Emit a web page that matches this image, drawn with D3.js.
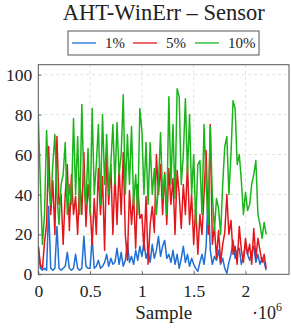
<!DOCTYPE html>
<html>
<head>
<meta charset="utf-8">
<script src="https://cdn.jsdelivr.net/npm/d3@7"></script>
<style>
  body { margin: 0; background: #fff; }
  svg text { font-family: "Liberation Serif", "DejaVu Serif", serif; fill: #222; }
</style>
</head>
<body>
<svg width="291" height="330"></svg>
<script>
// sample step between readings (samples)
var sampleStep = 20000;

var series1 = [14,3,2,3,2,34,3,2,3,24,3,2,3,4,11,3,2,3,10,3,2,3,19,4,3,3,18,3,4,7,
  3,4,6,10,4,8,5,6,13,5,11,4,7,16,6,9,5,12,7,14,9,16,8,12,6,15,8,12,19,9,
  14,17,8,10,6,12,5,10,3,8,14,6,10,4,8,5,3,1.5,6,10,5,14,42,12,5,9,7,12,5,8,
  3,0.5,6,10,17,8,12,13,5,9,15,10,7,11,14,6,10,5,8,6,2];

var series5 = [14,5,3,16,25,64,30,47,20,69,35,40,15,40,55,22,50,30,39,20,48,30,61,24,45,34,15,38,20,53,
  30,49,12,60,35,55,20,50,25,54,30,61,20,7,42,25,40,13,45,28,30,12,39,5,25,34,21,60,40,55,
  30,51,25,53,35,48,20,52,40,23,45,30,55,25,40,15,35,10,30,20,40,62,20,75,15,24,8,22,6,15,
  21,40,20,27,10,14,5,24,12,6,18,10,15,5,23,8,18,12,6,10,3];

var series10 = [79,45,15,30,72,45,35,55,70,40,25,45,50,66,30,45,35,78,40,69,30,85,45,35,63,30,83,40,55,75,
  35,80,45,70,40,55,75,45,76,50,60,90,40,70,45,74,35,50,30,83,72,40,66,35,66,40,53,30,45,71,
  38,50,30,89,45,75,38,93,89,45,60,88,50,80,40,60,25,55,57,30,75,45,25,74,40,22,38,33,20,45,
  64,69,40,60,87,83,55,60,47,30,41,32,35,45,50,57,30,25,18,26,20];

var seriesNames = ["1%", "5%", "10%"];
var seriesColors = ["#1f6fd4", "#e3161b", "#1bb51b"];
var xTicks = [0, 0.5e6, 1e6, 1.5e6, 2e6];
var xTickLabels = ["0", "0.5", "1", "1.5", "2"];
var yTicks = [0, 20, 40, 60, 80, 100];

var margin = {top: 64.7, right: 2, bottom: 55.7, left: 38.3};
var width = 291 - margin.left - margin.right;
var height = 330 - margin.top - margin.bottom;

var svg = d3.select("svg");
var g = svg.append("g")
           .attr("transform", "translate(" + margin.left + "," + margin.top + ")");

var x = d3.scaleLinear().domain([0, 2.42e6]).range([0, width]);
var y = d3.scaleLinear().domain([0, 105]).range([height, 0]);

// grid
g.append("g").selectAll("line").data(xTicks.slice(1)).enter().append("line")
 .attr("x1", d => x(d)).attr("x2", d => x(d)).attr("y1", 0).attr("y2", height)
 .attr("stroke", "#e2e2e2").attr("stroke-dasharray", "3,3");
g.append("g").selectAll("line").data(yTicks.slice(1)).enter().append("line")
 .attr("y1", d => y(d)).attr("y2", d => y(d)).attr("x1", 0).attr("x2", width)
 .attr("stroke", "#e2e2e2").attr("stroke-dasharray", "3,3");

// lines
var allSeries = [series1, series5, series10];
g.append("clipPath").attr("id", "clip").append("rect")
 .attr("width", width).attr("height", height);
var line = d3.line()
             .x((d, i) => x(i * sampleStep))
             .y(d => y(d));
allSeries.forEach(function(s, k) {
    g.append("path")
     .datum(s)
     .attr("clip-path", "url(#clip)")
     .attr("fill", "none")
     .attr("stroke", seriesColors[k])
     .attr("stroke-width", 1.5)
     .attr("stroke-linejoin", "round")
     .attr("d", line);
});

// axes
var xAxis = d3.axisBottom(x).tickValues(xTicks)
              .tickFormat((d, i) => xTickLabels[i]).tickSize(-3).tickPadding(10);
var xg = g.append("g").attr("transform", "translate(0," + height + ")").call(xAxis);
var yAxis = d3.axisLeft(y).tickValues(yTicks).tickSize(-3).tickPadding(6);
var yg = g.append("g").call(yAxis);
[xg, yg].forEach(function(a) {
    a.attr("font-family", null);
    a.select(".domain").remove();
    a.selectAll(".tick line").attr("stroke", "#666");
    a.selectAll("text").style("font-size", "17.5px").attr("fill", "#222");
});
xg.selectAll("text").attr("dy", "0.71em");

g.append("rect").attr("width", width).attr("height", height)
 .attr("fill", "none").attr("stroke", "#555").attr("stroke-width", 1);

// labels
svg.append("text").attr("x", margin.left + width / 2).attr("y", 20)
   .attr("text-anchor", "middle").style("font-size", "22.5px")
   .text("AHT-WinErr \u2013 Sensor");

svg.append("text").attr("x", margin.left + width / 2).attr("y", 319)
   .attr("text-anchor", "middle").style("font-size", "19px")
   .text("Sample");

var mult = svg.append("text").attr("x", 252).attr("y", 319).style("font-size", "18px");
mult.append("tspan").text("\u00b710");
mult.append("tspan").attr("dy", -8).style("font-size", "12px").text("6");

// legend
var legend = svg.append("g").attr("transform", "translate(68,31)");
legend.append("rect").attr("width", 191).attr("height", 24)
      .attr("fill", "#fff").attr("stroke", "#555");
var legendX = [4, 65, 127];
seriesNames.forEach(function(n, k) {
    legend.append("line").attr("x1", legendX[k]).attr("x2", legendX[k] + 24)
          .attr("y1", 12).attr("y2", 12)
          .attr("stroke", seriesColors[k]).attr("stroke-width", 1.3);
    legend.append("text").attr("x", legendX[k] + 33).attr("y", 17)
          .style("font-size", "15px").text(n);
});
</script>
</body>
</html>
